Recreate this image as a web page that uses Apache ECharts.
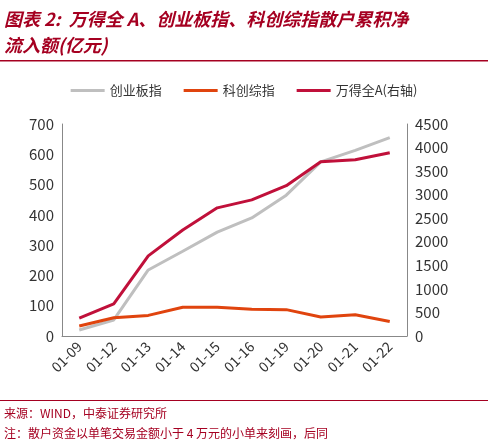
<!DOCTYPE html>
<html><head><meta charset="utf-8">
<script src="https://cdn.jsdelivr.net/npm/echarts@6/dist/echarts.min.js"></script>
<style>html,body{margin:0;padding:0;background:#fff}#c{width:488px;height:447px}</style>
</head><body><div id="c"></div>
<script>
const categories = ['01-09','01-12','01-13','01-14','01-15','01-16','01-19','01-20','01-21','01-22'];
const chuangye = [20,53,218,280,343,390,465,575,613,655];
const kechuang = [33,60,68,95,95,88,87,63,70,48];
const wande = [380,680,1700,2250,2720,2890,3190,3700,3740,3890];
const leftTicks = [0,700,100];
const rightTicks = [0,4500,500];
const font = '"Noto Sans CJK SC", sans-serif';
const chart = echarts.init(document.getElementById('c'));
chart.setOption({
  animation:false,
  textStyle:{fontFamily:font},
  graphic:[
    {type:'text',left:4,top:6,style:{text:'图表 2:  万得全 A、创业板指、科创综指散户累积净\n流入额(亿元)',fill:'#a50021',font:'italic bold 18px '+font,lineHeight:26}},
    {type:'rect',shape:{x:0,y:60,width:488,height:1.5},style:{fill:'#a50021'}},
    {type:'rect',shape:{x:0,y:400,width:488,height:1},style:{fill:'#a50021'}},
    {type:'text',left:4,top:403,style:{text:'来源：WIND，中泰证券研究所\n注：散户资金以单笔交易金额小于 4 万元的小单来刻画，后同',fill:'#a50021',font:'12px '+font,lineHeight:20}}
  ],
  legend:{top:79,left:'center',itemWidth:34,itemHeight:3,itemGap:22,icon:'rect',textStyle:{fontSize:13,color:'#333'},
    data:['创业板指','科创综指','万得全A(右轴)']},
  grid:{left:62,right:81,top:124,bottom:111},
  xAxis:{type:'category',data:categories,boundaryGap:true,
    axisLine:{lineStyle:{color:'#888'}},axisTick:{show:false},
    axisLabel:{rotate:45,color:'#333',fontSize:14,margin:8}},
  yAxis:[
    {type:'value',min:leftTicks[0],max:leftTicks[1],interval:leftTicks[2],splitLine:{show:false},
     axisLine:{show:true,lineStyle:{color:'#888'}},axisLabel:{color:'#333',fontSize:15}},
    {type:'value',min:rightTicks[0],max:rightTicks[1],interval:rightTicks[2],splitLine:{show:false},
     axisLine:{show:true,lineStyle:{color:'#888'}},axisLabel:{color:'#333',fontSize:15,formatter:v=>String(v)}}
  ],
  series:[
    {name:'创业板指',type:'line',data:chuangye,symbol:'none',lineStyle:{width:3,color:'#bfbfbf'},itemStyle:{color:'#bfbfbf'}},
    {name:'科创综指',type:'line',data:kechuang,symbol:'none',lineStyle:{width:3,color:'#e0440e'},itemStyle:{color:'#e0440e'}},
    {name:'万得全A(右轴)',type:'line',yAxisIndex:1,data:wande,symbol:'none',lineStyle:{width:3,color:'#c0103a'},itemStyle:{color:'#c0103a'}}
  ]
});
</script></body></html>
